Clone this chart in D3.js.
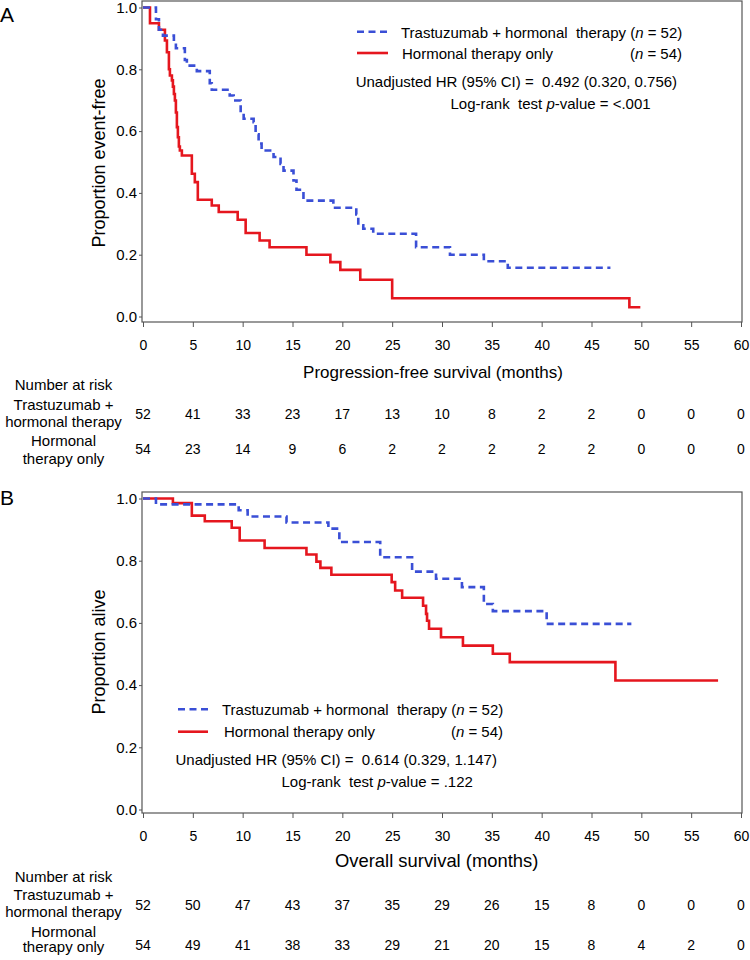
<!DOCTYPE html>
<html><head><meta charset="utf-8">
<script src="https://cdn.jsdelivr.net/npm/d3@7"></script>
<style>
body{margin:0;background:#fff}
svg text{font-family:"Liberation Sans",Arial,Helvetica,sans-serif;fill:#000;white-space:pre}
</style>
</head><body>
<svg id="chart" width="750" height="960"></svg>
<script>
// ---------- data ----------
const months = [0,5,10,15,20,25,30,35,40,45,50,55,60];
const yTicks = [0,0.2,0.4,0.6,0.8,1.0];
const groupNames = ["Trastuzumab + hormonal  therapy", "Hormonal therapy only"];
const groupN = [52, 54];
const riskLabels = [["Trastuzumab +","hormonal therapy"],["Hormonal","therapy only"]];

// Kaplan-Meier steps [month, proportion] (value holds from that month on; last point = end of follow-up)
const pfsTrastuzumab = [[0,1],[1.3,0.962],[1.6,0.928],[2.0,0.909],[3.1,0.888],[3.3,0.868],[4.2,0.83],[4.4,0.812],[5.4,0.794],[6.7,0.755],[6.9,0.734],[8.7,0.715],[9.1,0.699],[9.8,0.66],[10.1,0.64],[11.1,0.629],[11.3,0.59],[11.6,0.56],[11.9,0.537],[13.1,0.516],[13.8,0.494],[14.1,0.472],[15.1,0.44],[15.4,0.41],[16.1,0.375],[19.1,0.352],[21.4,0.33],[21.6,0.295],[22.1,0.284],[23.1,0.268],[27.4,0.224],[30.8,0.2],[34.2,0.179],[36.6,0.158],[46.9,0.158]];
const pfsHormonal = [[0,1],[0.7,0.949],[1.6,0.928],[2.2,0.893],[2.4,0.855],[2.6,0.80],[2.7,0.78],[2.9,0.764],[3.0,0.744],[3.1,0.72],[3.2,0.699],[3.3,0.66],[3.4,0.613],[3.5,0.58],[3.6,0.55],[3.7,0.537],[3.9,0.521],[4.9,0.462],[5.2,0.435],[5.5,0.378],[6.9,0.359],[7.6,0.338],[9.5,0.313],[10.3,0.27],[11.7,0.246],[12.7,0.224],[16.4,0.2],[18.8,0.176],[19.8,0.151],[21.8,0.119],[25.0,0.059],[48.8,0.03],[49.9,0.03]];
const osTrastuzumab = [[0,1],[1.3,0.981],[9.6,0.962],[10.5,0.942],[14.4,0.923],[18.6,0.903],[19.7,0.86],[23.8,0.811],[27.0,0.765],[29.4,0.742],[32.0,0.715],[34.2,0.661],[35.1,0.638],[40.5,0.597],[49.0,0.597]];
const osHormonal = [[0,1],[3.0,0.985],[4.9,0.945],[6.2,0.927],[8.9,0.906],[9.7,0.865],[12.2,0.841],[16.4,0.82],[17.4,0.797],[17.8,0.777],[18.9,0.755],[24.95,0.731],[25.3,0.704],[26.0,0.681],[28.1,0.655],[28.4,0.629],[28.5,0.607],[28.7,0.581],[29.9,0.554],[32.1,0.527],[35.1,0.501],[36.8,0.474],[47.4,0.415],[57.7,0.415]];

const pfsRiskTrastuzumab = [52,41,33,23,17,13,10,8,2,2,0,0,0];
const pfsRiskHormonal    = [54,23,14,9,6,2,2,2,2,2,0,0,0];
const osRiskTrastuzumab  = [52,50,47,43,37,35,29,26,15,8,0,0,0];
const osRiskHormonal     = [54,49,41,38,33,29,21,20,15,8,4,2,0];

// ---------- drawing ----------
const svg = d3.select("#chart");
const BLUE = "#3a4fd6", RED = "#e5161e", FRAME = "#555";

function panel(o){
  const g = svg.append("g");
  const x = d3.scaleLinear().domain([0,60]).range([143,741]);
  const y = d3.scaleLinear().domain([0,1]).range([o.y0, o.y1]);

  // frame
  g.append("rect").attr("x",142).attr("y",o.top).attr("width",600).attr("height",o.bottom-o.top)
    .attr("fill","none").attr("stroke",FRAME).attr("stroke-width",1.2);

  // axes
  const ya = g.append("g").attr("transform","translate(142,0)")
    .call(d3.axisLeft(y).tickValues(yTicks).tickFormat(d3.format(".1f")).tickSize(3).tickPadding(2));
  ya.select(".domain").remove();
  ya.selectAll("line").attr("stroke",FRAME);
  ya.selectAll("text").style("font-size","15px").attr("font-family",null);

  const xa = g.append("g").attr("transform",`translate(0,${o.bottom})`)
    .call(d3.axisBottom(x).tickValues(months).tickSize(5).tickPadding(13));
  xa.select(".domain").remove();
  xa.selectAll("line").attr("stroke",FRAME);
  xa.selectAll("text").style("font-size","14px").attr("font-family",null);

  // panel letter
  g.append("text").attr("x",0).attr("y",o.letterY).style("font-size","21px").text(o.letter);

  // y title
  g.append("text").attr("transform",`translate(105,${o.yTitleY}) rotate(-90)`)
    .attr("text-anchor","middle").style("font-size","18px").text(o.yTitle);
  // x title
  g.append("text").attr("x",o.xTitleX).attr("y",o.xTitleBase).attr("text-anchor","middle")
    .style("font-size",o.xTitleSize).text(o.xTitle);

  // curves
  const line = d3.line().x(d=>x(d[0])).y(d=>y(d[1])).curve(d3.curveStepAfter);
  g.append("path").datum(o.hormonal).attr("d",line).attr("fill","none")
    .attr("stroke",RED).attr("stroke-width",2.6);
  g.append("path").datum(o.trast).attr("d",line).attr("fill","none")
    .attr("stroke",BLUE).attr("stroke-width",2.6).attr("stroke-dasharray","7,4.5");

  // legend
  const L = o.legend;
  g.append("line").attr("x1",L.lx1).attr("x2",L.lx2).attr("y1",L.ly1).attr("y2",L.ly1)
    .attr("stroke",BLUE).attr("stroke-width",2.6).attr("stroke-dasharray","7,4.5");
  g.append("line").attr("x1",L.lx1).attr("x2",L.lx2).attr("y1",L.ly2).attr("y2",L.ly2)
    .attr("stroke",RED).attr("stroke-width",2.6);
  const t1 = g.append("text").attr("x",L.tx1).attr("y",L.b1).style("font-size","15px");
  t1.append("tspan").text(groupNames[0]+" (");
  t1.append("tspan").style("font-style","italic").text("n");
  t1.append("tspan").text(" = "+groupN[0]+")");
  g.append("text").attr("x",L.tx2).attr("y",L.b2).style("font-size","15px").text(groupNames[1]);
  const t2 = g.append("text").attr("x",L.tend).attr("y",L.b2).attr("text-anchor","end").style("font-size","15px");
  t2.append("tspan").text("(");
  t2.append("tspan").style("font-style","italic").text("n");
  t2.append("tspan").text(" = "+groupN[1]+")");
  g.append("text").attr("x",L.hx).attr("y",L.b3).style("font-size","15px").text(o.hr);
  const t4 = g.append("text").attr("x",L.px).attr("y",L.b4).style("font-size","15px");
  t4.append("tspan").text("Log-rank  test ");
  t4.append("tspan").style("font-style","italic").text("p");
  t4.append("tspan").text("-value = "+o.pval);

  // number at risk table
  const T = o.table;
  g.append("text").attr("x",63.5).attr("y",T.head).attr("text-anchor","middle").style("font-size","15px").text("Number at risk");
  [[T.r1a,T.r1b],[T.r2a,T.r2b]].forEach((ys,i)=>{
    ys.forEach((yy,j)=>g.append("text").attr("x",63.5).attr("y",yy).attr("text-anchor","middle")
      .style("font-size","15px").text(riskLabels[i][j]));
  });
  [[o.risk1,T.n1],[o.risk2,T.n2]].forEach(([arr,yy])=>{
    g.selectAll(null).data(arr).enter().append("text")
      .attr("x",(d,i)=>x(months[i])).attr("y",yy).attr("text-anchor","middle")
      .style("font-size","14px").text(d=>d);
  });
}

panel({
  letter:"A", letterY:22, top:1, bottom:322, y0:316.5, y1:7.5,
  yTitle:"Proportion event-free", yTitleY:163,
  xTitle:"Progression-free survival (months)", xTitleX:433, xTitleBase:378, xTitleSize:"17px",
  trast:pfsTrastuzumab, hormonal:pfsHormonal,
  legend:{lx1:357,lx2:388,ly1:31.7,ly2:53,tx1:401,tx2:402,tend:682,b1:38.3,b2:59.3,hx:355.7,b3:87.3,px:450.5,b4:109.3},
  hr:"Unadjusted HR (95% CI) =  0.492 (0.320, 0.756)", pval:"<.001",
  table:{head:390,r1a:410,r1b:427,r2a:446,r2b:463.5,n1:418.5,n2:453.5},
  risk1:pfsRiskTrastuzumab, risk2:pfsRiskHormonal
});

panel({
  letter:"B", letterY:505, top:492, bottom:813, y0:809.5, y1:498.5,
  yTitle:"Proportion alive", yTitleY:652,
  xTitle:"Overall survival (months)", xTitleX:436.7, xTitleBase:866.5, xTitleSize:"18.4px",
  trast:osTrastuzumab, hormonal:osHormonal,
  legend:{lx1:178,lx2:208,ly1:709.3,ly2:731.7,tx1:222,tx2:224,tend:503,b1:715,b2:737.3,hx:175.5,b3:765,px:281.5,b4:787.3},
  hr:"Unadjusted HR (95% CI) =  0.614 (0.329, 1.147)", pval:".122",
  table:{head:882,r1a:900,r1b:917,r2a:936.5,r2b:952,n1:910,n2:950},
  risk1:osRiskTrastuzumab, risk2:osRiskHormonal
});
</script>
</body></html>
